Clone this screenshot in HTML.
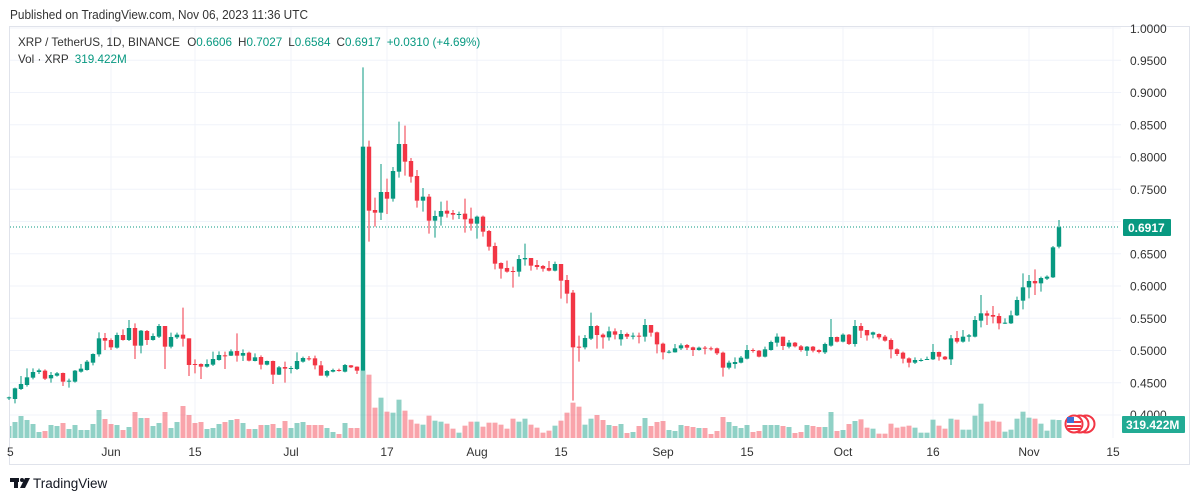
<!DOCTYPE html>
<html><head><meta charset="utf-8"><style>
html,body{margin:0;padding:0;background:#fff;width:1200px;height:501px;overflow:hidden;font-family:"Liberation Sans",sans-serif}
</style></head><body>
<svg id="s" width="1200" height="501" xmlns="http://www.w3.org/2000/svg" style="position:absolute;left:0;top:0">
<rect x="0" y="0" width="1200" height="501" fill="#fff"/>
<text x="10" y="19" font-size="12.5" fill="#333" textLength="298" lengthAdjust="spacingAndGlyphs" font-family="Liberation Sans, sans-serif">Published on TradingView.com, Nov 06, 2023 11:36 UTC</text>
<g id="grid"></g>
<rect x="9.5" y="26.5" width="1180" height="438" fill="none" stroke="#e0e3eb"/>
<g id="vol"></g>
<g id="cdl"></g>
<line x1="10" y1="227" x2="1120" y2="227" stroke="#089981" stroke-dasharray="1,2" stroke-width="1"/>
<g font-size="11.7" font-family="Liberation Sans, sans-serif">
<text x="18" y="46" fill="#333">XRP / TetherUS, 1D, BINANCE <tspan dx="4">O</tspan><tspan fill="#089981">0.6606</tspan><tspan dx="6">H</tspan><tspan fill="#089981">0.7027</tspan><tspan dx="6">L</tspan><tspan fill="#089981">0.6584</tspan><tspan dx="6">C</tspan><tspan fill="#089981">0.6917</tspan><tspan dx="6" fill="#089981">+0.0310 (+4.69%)</tspan></text>
<text x="18" y="63" fill="#333">Vol · XRP <tspan dx="3" fill="#089981">319.422M</tspan></text>
</g>
<g id="axis" font-size="12" fill="#333" font-family="Liberation Sans, sans-serif"></g>
<rect x="1123" y="219" width="48" height="17" fill="#089981" rx="1"/>
<text x="1128" y="232" font-size="12" font-weight="bold" fill="#fff" font-family="Liberation Sans, sans-serif">0.6917</text>
<rect x="1122" y="416" width="63" height="17" fill="#22ab94" rx="1"/>
<text x="1126" y="429" font-size="12" font-weight="bold" fill="#fff" font-family="Liberation Sans, sans-serif">319.422M</text>
<g>
<circle cx="1086" cy="424" r="8.5" fill="#fff" stroke="#f23645" stroke-width="2"/>
<circle cx="1080" cy="424" r="8.5" fill="#fff" stroke="#f23645" stroke-width="2"/>
<circle cx="1074" cy="424" r="8.5" fill="#fff" stroke="#f23645" stroke-width="2"/>
<rect x="1067" y="421" width="14" height="2" fill="#f23645"/>
<rect x="1067" y="425" width="14" height="2" fill="#f23645"/>
<rect x="1068" y="428" width="12" height="2" fill="#f23645"/>
<rect x="1067" y="417" width="7" height="6" fill="#3d6fd6"/>
</g>
<g>
<rect x="10" y="478" width="9" height="4" fill="#131722"/>
<rect x="14" y="478" width="4" height="10" fill="#131722"/>
<circle cx="22" cy="480" r="2" fill="#131722"/>
<polygon points="25,478 30,478 25,488 20,488" fill="#131722"/>
<text x="33" y="488" font-size="13.5" fill="#131722" font-family="Liberation Sans, sans-serif">TradingView</text>
</g>
</svg>
<script>
var S="http://www.w3.org/2000/svg";
function el(p,t,a,txt){var e=document.createElementNS(S,t);for(var k in a)e.setAttribute(k,a[k]);if(txt!=null)e.textContent=txt;p.appendChild(e);return e;}
var grid=document.getElementById('grid'),ax=document.getElementById('axis');
for(var i=0;i<=12;i++){var p=1-i*0.05,y=28+i*32.25;
 el(grid,'line',{x1:10,x2:1121,y1:y,y2:y,stroke:'#f0f3fa','stroke-width':1});
 if(i>0&&i!=6&&i!=12) el(ax,'text',{x:1130,y:y+4.5},p.toFixed(4));
}
el(ax,'text',{x:1130,y:33},'1.0000');
el(ax,'text',{x:1130,y:419},'0.4000');
var vx=[[111,'Jun'],[195,'15'],[291,'Jul'],[387,'17'],[477,'Aug'],[561,'15'],[663,'Sep'],[747,'15'],[843,'Oct'],[933,'16'],[1029,'Nov'],[1113,'15']];
vx.forEach(function(v){el(grid,'line',{x1:v[0],x2:v[0],y1:27,y2:438,stroke:'#f0f3fa','stroke-width':1});
 el(ax,'text',{x:v[0],y:456,'text-anchor':'middle'},v[1]);});
el(ax,'text',{x:7,y:456},'5');
var segs=[[290,[[325,320,330,322,408],[327,293,340,295,396],[297,258,300,282,378],[285,235,290,262,390],[263,235,268,246,402],[246,236,252,241,426],[242,238,270,266,423],[265,246,278,255,405],[257,246,260,250,408],[249,248,288,275,399],[273,266,293,272,417],[275,240,278,242,405],[245,222,248,236,420],[240,210,242,215,420],[218,190,226,192,402],[193,127,200,145,360],[144,129,180,152,387],[150,145,180,172,402],[173,128,176,135,405],[135,118,152,150,420],[150,90,153,114,411],[114,100,207,167,366],[167,120,190,122,384],[123,120,165,150,384],[150,130,152,138,408],[140,102,144,108,399],[108,108,237,170,366],[170,128,175,141,414],[142,128,147,134,396],[134,53,170,146,348],[145,145,258,225,375],[222,208,250,224,399],[222,220,267,230,396],[230,208,233,222,417],[224,185,228,207,414],[210,184,212,195,402],[196,185,237,198,396],[197,178,198,184,390],[183,130,215,197,387],[197,178,213,189,399],[188,185,214,212,417],[213,190,214,202,417],[201,196,238,224,405],[224,212,226,213,405],[213,212,282,254,402],[254,228,255,232,414],[231,215,278,236,393],[235,228,250,234,414],[237,187,240,213,399],[215,200,218,204,396],[205,198,212,208,405],[205,197,238,226,405],[226,213,257,257,405],[257,240,262,243,414],[245,236,247,240,426],[240,236,245,243,432],[245,222,247,225,399],[226,225,234,232,414],[230,229,252,242,414]]],
[60,[[932,22,932,260,932],[260,242,545,452,944],[450,413,500,458,1043],[458,312,480,396,1013],[396,356,462,416,1055],[416,321,425,333,1058],[335,185,353,252,1019],[252,197,347,305,1052],[303,294,368,350,1079],[348,330,443,422,1091],[422,384,455,410,1094],[410,402,521,482,1067],[482,452,533,468,1082],[470,425,497,453,1085],[452,422,473,461,1091],[459,450,479,464,1106],[464,455,477,462,1118],[461,416,518,478,1097],[476,443,512,491,1085],[491,467,536,470,1085],[470,467,530,515,1100],[513,510,572,560,1088],[558,548,628,611,1088],[609,607,656,626,1094],[624,602,638,635,1106],[633,620,683,634,1076],[635,585,650,597,1085],[598,551,617,594,1076],[594,594,632,617,1094],[615,600,629,621,1103],[618,615,635,626,1118],[624,603,634,632,1112],[632,605,634,612,1097],[612,612,716,662,1082],[660,645,730,701,1058],[698,690,1022,862,1028],[860,827,905,862,1040],[862,825,868,834,1094],[836,758,840,798,1076]]],
[300,[[78,75,146,105,345],[104,100,146,112,360],[112,80,122,94,375],[94,85,118,104,378],[118,90,137,102,372],[102,98,117,110,399],[108,98,118,107,396],[107,98,130,108,378],[110,57,125,75,354],[75,75,110,98,378],[97,95,160,133,366],[131,128,178,157,363],[157,150,160,155,390],[157,132,158,145,393],[145,130,150,136,375],[135,132,150,143,378],[142,140,168,150,381],[150,140,152,143,384],[143,138,163,145,384],[145,140,152,147,402],[145,143,165,160,393],[158,155,230,203,351],[203,182,208,188,366],[192,172,206,186,378],[188,168,190,173,384],[176,135,178,150,375],[150,145,158,152,396],[152,150,172,170,393],[170,140,172,148,375],[150,122,152,126,375],[128,100,140,110,375],[110,110,150,138,378],[140,120,145,128,381],[128,126,142,139,399],[139,135,155,150,396],[152,138,168,140,375],[140,138,157,152,378],[150,148,160,156,381],[157,128,162,132,381],[137,57,140,111,336],[111,110,127,125,393],[125,100,127,104,390],[104,102,135,132,372],[132,60,140,78,363]]],
[200,[[378,369,414,392,658],[390,390,422,406,683],[404,395,415,397,686],[402,400,418,412,701],[410,405,425,422,701],[420,415,475,448,671],[448,445,468,462,683],[458,455,490,476,680],[475,472,502,488,677],[488,472,492,480,683],[482,475,485,480,698],[479,470,480,477,698],[478,432,480,456,659],[456,455,482,470,677],[470,468,480,478,686],[478,405,495,415,656],[414,393,430,425,659],[425,390,428,410,689],[410,402,425,406,689],[410,348,412,360,647],[362,285,382,340,611],[340,332,375,347,665],[345,318,370,350,662],[348,340,388,370,665],[370,355,372,368,695],[370,332,372,346,689],[346,290,348,300,656],[302,220,328,262,635],[262,225,295,243,653],[243,208,285,250,656],[250,230,275,234,671],[236,226,240,230,692],[232,138,234,142,659],[140,60,145,82,660]]]];
var all=[];segs.forEach(function(s){s[1].forEach(function(c){all.push([s[0]+c[0]/3,s[0]+c[1]/3,s[0]+c[2]/3,s[0]+c[3]/3,s[0]+c[4]/3]);});});
var N=all.length,cg=document.getElementById('cdl'),vg=document.getElementById('vol');
all.forEach(function(c,i){var x=1059-(N-1-i)*6;var up=c[3]<=c[0];
 var col=up?'#089981':'#f23645';
 var vt=c[4];
 el(vg,'rect',{x:Math.max(10,x-2.5),y:vt,width:(x-2.5<10?x+2.5-10:5),height:Math.max(0,438-vt),fill:up?'rgba(8,153,129,0.45)':'rgba(242,54,69,0.45)'});
 el(cg,'line',{x1:x,x2:x,y1:c[1],y2:c[2],stroke:col,'stroke-width':1});
 var t=Math.min(c[0],c[3]),h=Math.max(1,Math.abs(c[3]-c[0]));
 el(cg,'rect',{x:x-2.2,y:t,width:4.4,height:h,fill:col});
});
</script>
</body></html>
